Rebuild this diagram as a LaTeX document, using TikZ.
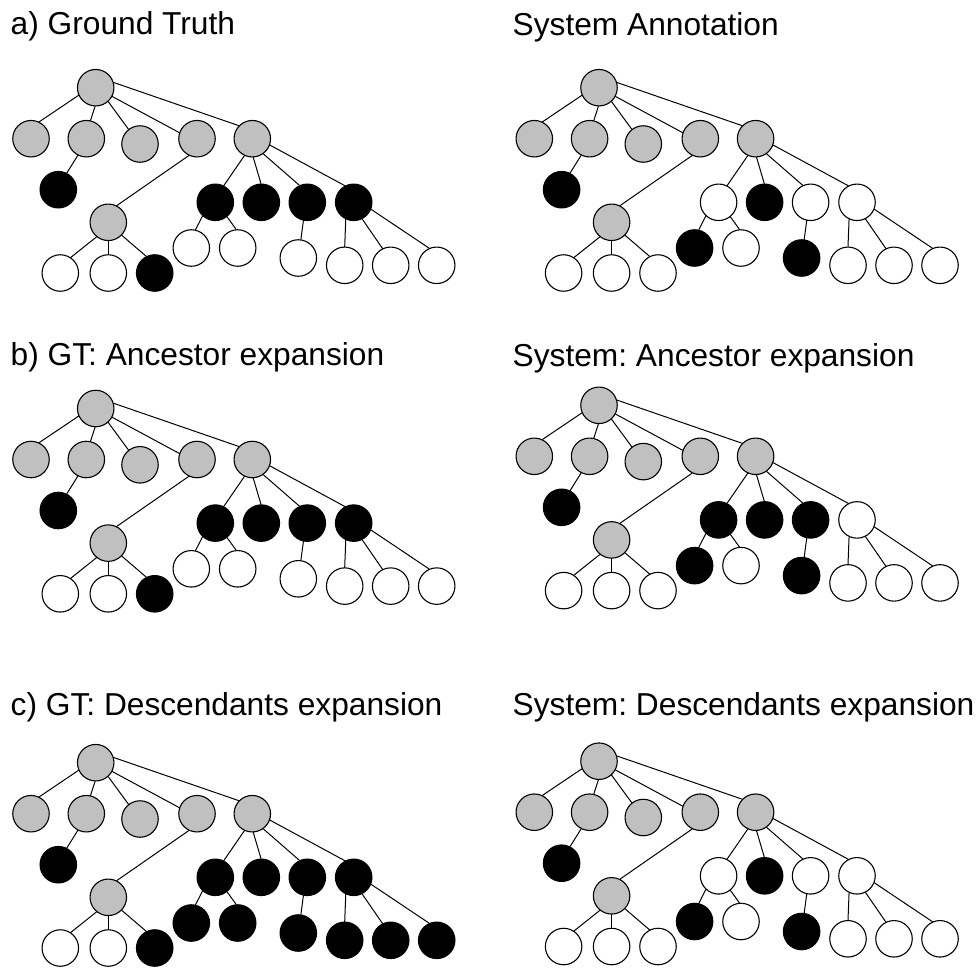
\documentclass[tikz,border=0pt]{standalone}
\usepackage{fontspec}
\setmainfont{Liberation Sans}
\frenchspacing
\definecolor{nodegrey}{HTML}{C0C0C0}

\tikzset{
  vertex/.style={circle, draw=black, line width=1.1pt, minimum size=36.5pt, inner sep=0pt},
  grey/.style={vertex, fill=nodegrey},
  blk/.style={vertex, fill=black},
  wht/.style={vertex, fill=white},
  edge/.style={line width=1pt, line cap=round},
  title/.style={anchor=base west, inner sep=0pt, font=\fontsize{31.7}{36}\selectfont},
  % colour sets for the nodes that differ between the trees
  ground truth/.style={cD1c/.style=blk, cE1/.style=blk, cE2/.style=blk, cE3/.style=blk, cE4/.style=blk,
    cE1a/.style=wht, cE1b/.style=wht, cE3a/.style=wht, cE4a/.style=wht, cE4b/.style=wht, cE4c/.style=wht},
  system annotation/.style={cD1c/.style=wht, cE1/.style=wht, cE2/.style=blk, cE3/.style=wht, cE4/.style=wht,
    cE1a/.style=blk, cE1b/.style=wht, cE3a/.style=blk, cE4a/.style=wht, cE4b/.style=wht, cE4c/.style=wht},
  system ancestors/.style={cD1c/.style=wht, cE1/.style=blk, cE2/.style=blk, cE3/.style=blk, cE4/.style=wht,
    cE1a/.style=blk, cE1b/.style=wht, cE3a/.style=blk, cE4a/.style=wht, cE4b/.style=wht, cE4c/.style=wht},
  gt descendants/.style={cD1c/.style=blk, cE1/.style=blk, cE2/.style=blk, cE3/.style=blk, cE4/.style=blk,
    cE1a/.style=blk, cE1b/.style=blk, cE3a/.style=blk, cE4a/.style=blk, cE4b/.style=blk, cE4c/.style=blk},
}

% one tree; #1 is a prefix for its node names
\newcommand\drawtree[1]{%
  \node[grey] (#1R)  at (95.7,87.7) {};
  \node[grey] (#1A)  at (31,138.7) {};
  \node[grey] (#1B)  at (86.3,138.7) {};
  \node[grey] (#1C)  at (140,144) {};
  \node[grey] (#1D)  at (197,138.7) {};
  \node[grey] (#1E)  at (252.3,138.7) {};
  \node[blk]  (#1B1) at (58.3,189.7) {};
  \node[grey] (#1D1) at (108.3,222.3) {};
  \node[wht]  (#1D1a) at (60.3,273) {};
  \node[wht]  (#1D1b) at (108.3,273) {};
  \node[cD1c] (#1D1c) at (154.7,273) {};
  \node[cE1]  (#1E1) at (215.3,202.3) {};
  \node[cE2]  (#1E2) at (261.3,202.3) {};
  \node[cE3]  (#1E3) at (307.3,202.3) {};
  \node[cE4]  (#1E4) at (353.7,202.3) {};
  \node[cE1a] (#1E1a) at (191.3,248) {};
  \node[cE1b] (#1E1b) at (237.7,248) {};
  \node[cE3a] (#1E3a) at (298.3,258) {};
  \node[cE4a] (#1E4a) at (344.7,265.3) {};
  \node[cE4b] (#1E4b) at (390.7,265.3) {};
  \node[cE4c] (#1E4c) at (436.7,265.3) {};
  \draw[edge] (#1R.204) -- (#1A.64);
  \draw[edge] (#1R.268) -- (#1B.77);
  \draw[edge] (#1R.312) -- (#1C.128);
  \draw[edge] (#1R.332) -- (#1D.161);
  \draw[edge] (#1R.16) -- (#1E.136);
  \draw[edge] (#1B.243) -- (#1B1.63);
  \draw[edge] (#1D.244) -- (#1D1.63);
  \draw[edge] (#1D1.231) -- (#1D1a.56);
  \draw[edge] (#1D1.270) -- (#1D1b.90);
  \draw[edge] (#1D1.316) -- (#1D1c.117);
  \draw[edge] (#1E.245) -- (#1E1.63);
  \draw[edge] (#1E.273) -- (#1E2.91);
  \draw[edge] (#1E.306) -- (#1E3.115);
  \draw[edge] (#1E.340) -- (#1E4.118);
  \draw[edge] (#1E1.227) -- (#1E1a.77);
  \draw[edge] (#1E1.309) -- (#1E1b.95);
  \draw[edge] (#1E3.258) -- (#1E3a.82);
  \draw[edge] (#1E4.245) -- (#1E4a.90);
  \draw[edge] (#1E4.297) -- (#1E4b.116);
  \draw[edge] (#1E4.338) -- (#1E4c.114);
}

\begin{document}
\begin{tikzpicture}[x=1pt, y=-1pt]
  \useasboundingbox[fill=white] (0,0) rectangle (979,967);

  % titles
  \node[title] (ta) at (10.5,34)    {a) Ground Truth};
  \node[title] (sa) at (512.5,35.5) {System Annotation};
  \node[title] (tb) at (10.5,365.7) {b) GT: Ancestor expansion};
  \node[title] (sb) at (512.5,366)  {System: Ancestor expansion};
  \node[title] (tc) at (10.5,715)   {c) GT: Descendants expansion};
  \node[title] (sc) at (512.5,715.7){System: Descendants expansion};

  % trees
  \begin{scope}[ground truth]
    \drawtree{la}
  \end{scope}
  \begin{scope}[shift={(503.3,0)}, system annotation]
    \drawtree{ra}
  \end{scope}
  \begin{scope}[shift={(0,320.8)}, ground truth]
    \drawtree{lb}
  \end{scope}
  \begin{scope}[shift={(503.3,317.6)}, system ancestors]
    \drawtree{rb}
  \end{scope}
  \begin{scope}[shift={(0,675)}, gt descendants]
    \drawtree{lc}
  \end{scope}
  \begin{scope}[shift={(503.3,673.5)}, system annotation]
    \drawtree{rc}
  \end{scope}
\end{tikzpicture}
\end{document}
